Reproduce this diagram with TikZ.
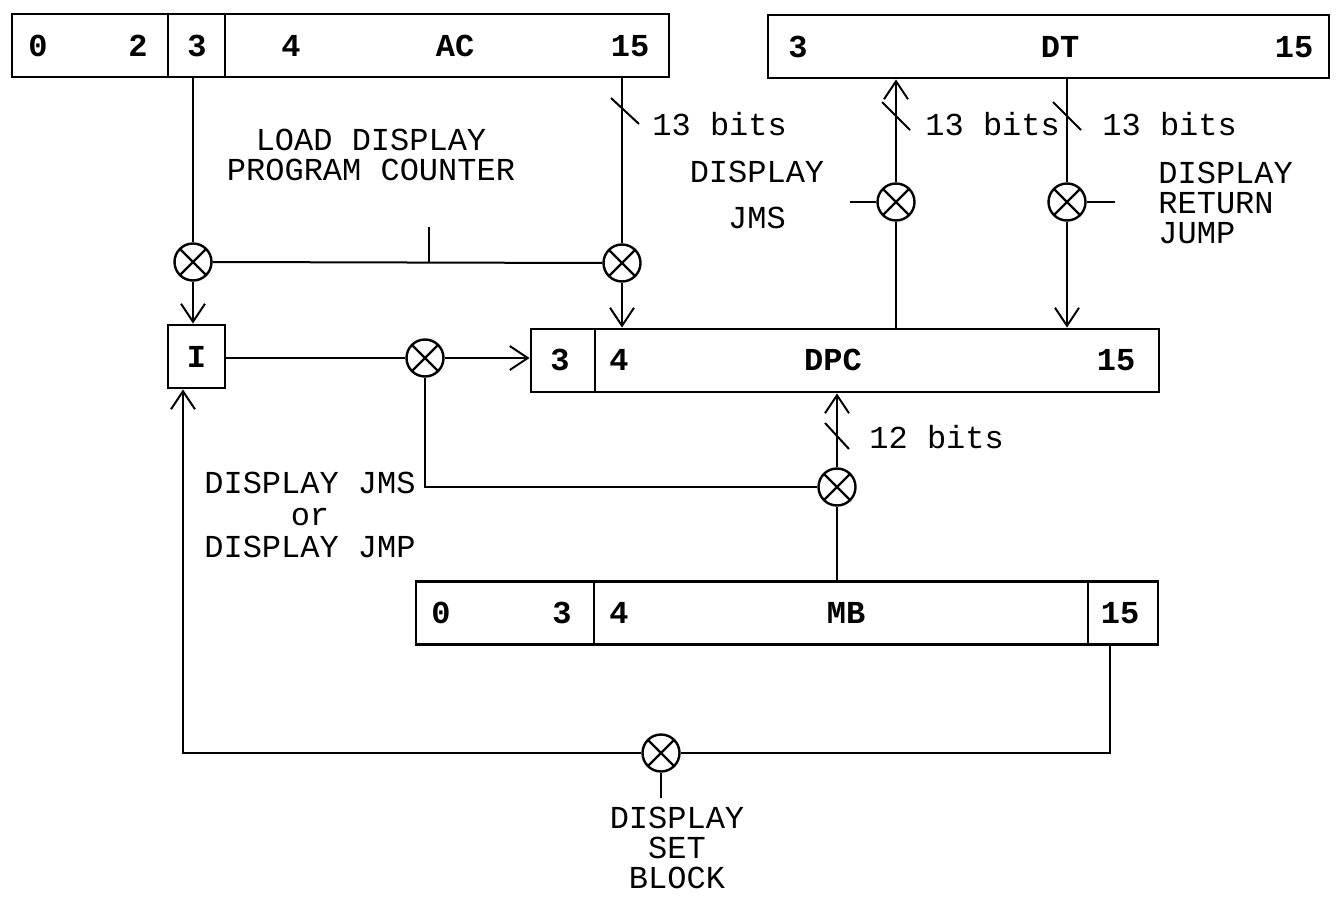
\documentclass[tikz,border=0pt]{standalone}
\usepackage{fontspec}
\setmonofont{Liberation Mono}
\usetikzlibrary{arrows.meta,calc}
\tikzset{
  reg/.style={draw, line width=1.4pt, inner sep=0pt, minimum height=31.5pt},
  regtxt/.style={font=\ttfamily\bfseries\fontsize{16}{15}\selectfont, inner sep=0pt},
  lbl/.style={font=\ttfamily\fontsize{16}{15}\selectfont, inner sep=0pt, align=center},
  gate/.style={draw, circle, line width=1.2pt, minimum size=18.5pt, inner sep=0pt,
    path picture={\draw[line width=1.1pt] (path picture bounding box.north west) -- (path picture bounding box.south east)
      (path picture bounding box.north east) -- (path picture bounding box.south west);}},
  wire/.style={line width=1pt},
  arr/.style={wire, -{Straight Barb[length=9pt,width=12pt,line width=1pt]}},
  slash/.style={line width=1pt},
}
\begin{document}
\begin{tikzpicture}[x=0.5pt,y=-0.5pt]
\useasboundingbox (0,0) rectangle (1339,899);
% AC register
\node[reg, minimum width=78pt] (acL) at (90,45.5) {};
\node[reg, minimum width=28.5pt] (acM) at (196.5,45.5) {};
\node[reg, minimum width=222pt] (acR) at (447,45.5) {};
\node[regtxt] (ac0) at (38,46) {0};
\node[regtxt] (ac2) at (138,46) {2};
\node[regtxt] (ac3) at (197,46) {3};
\node[regtxt] (ac4) at (291,46) {4};
\node[regtxt] (acN) at (455,46) {AC};
\node[regtxt] (ac15) at (630,46) {15};
% DT register
\node[reg, minimum width=280.5pt] (dt) at (1048.5,46.5) {};
\node[regtxt] (dt3) at (798,47) {3};
\node[regtxt] (dtN) at (1060,47) {DT};
\node[regtxt] (dt15) at (1294,47) {15};
% I box
\node[reg, minimum width=28.5pt] (I) at (196.5,356.5) {};
\node[regtxt] (Itxt) at (196.5,357) {I};
% DPC register
\node[reg, minimum width=32pt] (dpcA) at (563,360.5) {};
\node[reg, minimum width=282pt] (dpcB) at (877,360.5) {};
\node[regtxt] (dpc3) at (560,360) {3};
\node[regtxt] (dpc4) at (619,360) {4};
\node[regtxt] (dpcN) at (833,360) {DPC};
\node[regtxt] (dpc15) at (1116,360) {15};
% MB register
\node[reg, minimum width=89pt] (mbA) at (505,613) {};
\node[reg, minimum width=247pt] (mbB) at (841,613) {};
\node[reg, minimum width=35pt] (mbC) at (1123,613) {};
\node[regtxt] (mb0) at (441,613) {0};
\node[regtxt] (mb3) at (562,613) {3};
\node[regtxt] (mb4) at (619,613) {4};
\node[regtxt] (mbN) at (846,613) {MB};
\node[regtxt] (mb15) at (1120,613) {15};
% gates
\node[gate] (c1) at (193,262) {};
\node[gate] (c2) at (622,263) {};
\node[gate] (c3) at (425,358) {};
\node[gate] (c4) at (837,487) {};
\node[gate] (c5) at (896,202) {};
\node[gate] (c6) at (1067,202) {};
\node[gate] (c7) at (661,753) {};
% coordinates
\coordinate (t1) at (429,227);
\coordinate (j1) at (425,487);
\coordinate (s5) at (850,202);
\coordinate (s6) at (1115,202);
\coordinate (b1) at (1110,753);
\coordinate (b2) at (183,753);
\coordinate (s7) at (661,798);
% connectors
\draw[wire] (c1.north) -- (c1.north |- acM.south);
\draw[arr] (c1.south) -- (c1.south |- I.north);
\draw[wire] (c1.east) -- (c2.west);
\draw[wire] (t1) -- (t1 |- c1.east);
\draw[wire] (c2.north) -- (c2.north |- acR.south);
\draw[arr] (c2.south) -- (c2.south |- dpcB.north);
\draw[wire] (I.east |- c3.west) -- (c3.west);
\draw[arr] (c3.east) -- (dpcA.west |- c3.east);
\draw[wire] (c3.south) -- (j1) -- (c4.west);
\draw[arr] (c4.north) -- (c4.north |- dpcB.south);
\draw[wire] (c4.south) -- (c4.south |- mbB.north);
\draw[wire] (c5.south) -- (c5.south |- dpcB.north);
\draw[arr] (c5.north) -- (c5.north |- dt.south);
\draw[wire] (s5) -- (c5.west);
\draw[wire] (c6.north) -- (c6.north |- dt.south);
\draw[arr] (c6.south) -- (c6.south |- dpcB.north);
\draw[wire] (c6.east) -- (s6);
\draw[wire] (b1 |- mbC.south) -- (b1) -- (c7.east);
\draw[arr] (c7.west) -- (b2) -- (b2 |- I.south);
\draw[wire] (c7.south) -- (s7);
% bus slashes
\draw[slash] (611,98) -- (639,124);
\draw[slash] (882,102) -- (910,130);
\draw[slash] (1053,102) -- (1081,130);
\draw[slash] (825,423) -- (849,449);
% labels
\node[lbl, anchor=west] (l13a) at (652,124) {13 bits};
\node[lbl, anchor=west] (l13b) at (925,124) {13 bits};
\node[lbl, anchor=west] (l13c) at (1102,124) {13 bits};
\node[lbl, anchor=west] (l12) at (869,437) {12 bits};
\node[lbl] (lload) at (371,155) {LOAD DISPLAY\\PROGRAM COUNTER};
\node[lbl] (ljms) at (757,195) {DISPLAY\\[8pt]JMS};
\node[lbl, align=left, anchor=west] (lret) at (1158,203) {DISPLAY\\RETURN\\JUMP};
\node[lbl] (ljmp) at (310,515) {DISPLAY JMS\\[1pt]or\\[1pt]DISPLAY JMP};
\node[lbl] (lset) at (677,848) {DISPLAY\\SET\\BLOCK};
\end{tikzpicture}
\end{document}
